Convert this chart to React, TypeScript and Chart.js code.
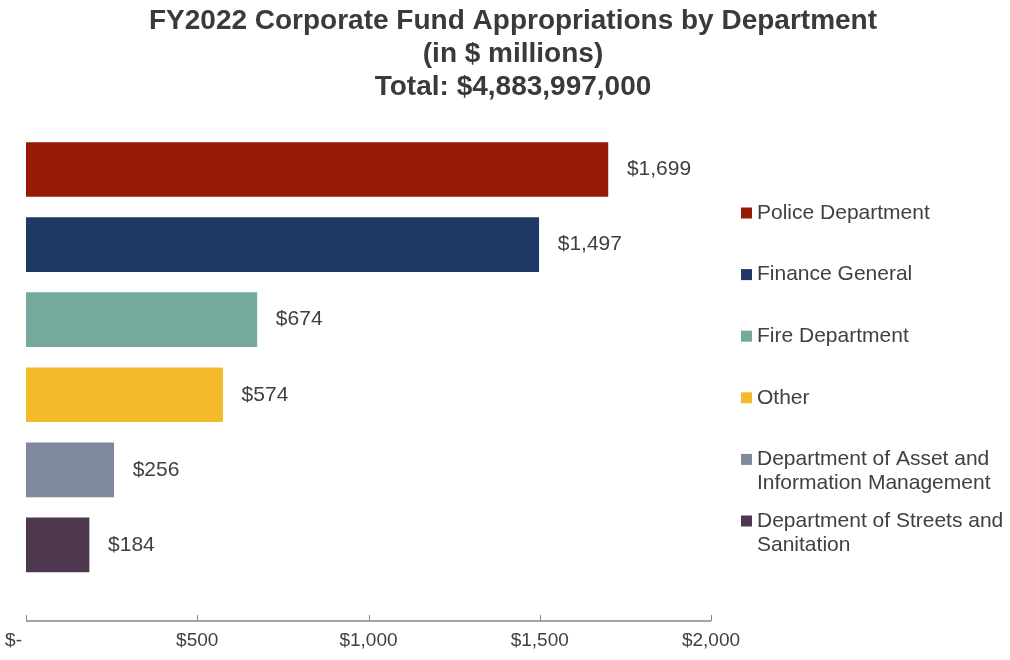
import React, { useEffect, useRef } from 'react';
import { Chart, registerables } from 'chart.js';

Chart.register(...registerables);

const TITLE_LINES = [
  'FY2022 Corporate Fund Appropriations by Department',
  '(in $ millions)',
  'Total: $4,883,997,000',
];
const DEPARTMENTS = [
  'Police Department',
  'Finance General',
  'Fire Department',
  'Other',
  'Department of Asset and Information Management',
  'Department of Streets and Sanitation',
];
const APPROPRIATIONS = [1699, 1497, 674, 574, 256, 184];
const BAR_COLORS = ['#961A06', '#203864', '#75A99D', '#F5BA2B', '#7F899B', '#4E384F'];
const X_MIN = 0;
const X_MAX = 2000;
const X_STEP = 500;

const FONT = "'Liberation Sans', Arial, sans-serif";
const TEXT = '#404040';

const fmtMoney = (v: number) => '$' + v.toLocaleString('en-US');
const fmtTick = (v: number) => (v === 0 ? '$-' : fmtMoney(v));

function wrapText(ctx: CanvasRenderingContext2D, text: string, maxW: number): string[] {
  const words = text.split(' ');
  const lines: string[] = [];
  let cur = '';
  for (const w of words) {
    const test = cur ? cur + ' ' + w : w;
    if (cur && ctx.measureText(test).width > maxW) {
      lines.push(cur);
      cur = w;
    } else cur = test;
  }
  if (cur) lines.push(cur);
  return lines;
}

const titlePlugin = {
  id: 'customTitle',
  afterDraw(chart: any) {
    const ctx = chart.ctx as CanvasRenderingContext2D;
    ctx.save();
    ctx.font = `bold 28px ${FONT}`;
    ctx.fillStyle = '#3a3a3a';
    ctx.textAlign = 'center';
    ctx.textBaseline = 'middle';
    TITLE_LINES.forEach((line, i) => ctx.fillText(line, 513, 21 + i * 33));
    ctx.restore();
  },
};

const valueLabelPlugin = {
  id: 'valueLabels',
  afterDatasetsDraw(chart: any) {
    const ctx = chart.ctx as CanvasRenderingContext2D;
    const meta = chart.getDatasetMeta(0);
    ctx.save();
    ctx.font = `21px ${FONT}`;
    ctx.fillStyle = TEXT;
    ctx.textAlign = 'left';
    ctx.textBaseline = 'middle';
    meta.data.forEach((bar: any, i: number) => {
      ctx.fillText(fmtMoney(APPROPRIATIONS[i]), bar.x + 19, bar.y);
    });
    ctx.restore();
  },
};

const sideLegendPlugin = {
  id: 'sideLegend',
  afterDraw(chart: any) {
    const ctx = chart.ctx as CanvasRenderingContext2D;
    ctx.save();
    ctx.font = `21px ${FONT}`;
    ctx.textAlign = 'left';
    ctx.textBaseline = 'middle';
    DEPARTMENTS.forEach((name, i) => {
      const y = 213 + i * 61.6;
      ctx.fillStyle = BAR_COLORS[i];
      ctx.fillRect(741, y - 5.5, 11, 11);
      ctx.fillStyle = TEXT;
      wrapText(ctx, name, 250).forEach((line, j) => ctx.fillText(line, 757, y + j * 24));
    });
    ctx.restore();
  },
};

const xAxisPlugin = {
  id: 'xAxisDecor',
  afterDraw(chart: any) {
    const ctx = chart.ctx as CanvasRenderingContext2D;
    const xs = chart.scales.x;
    const { left, right, bottom } = chart.chartArea;
    ctx.save();
    ctx.strokeStyle = '#868686';
    ctx.lineWidth = 1.5;
    ctx.beginPath();
    ctx.moveTo(left, bottom + 1);
    ctx.lineTo(right, bottom + 1);
    ctx.stroke();
    ctx.lineWidth = 1;
    ctx.font = `19px ${FONT}`;
    ctx.fillStyle = TEXT;
    ctx.textBaseline = 'middle';
    xs.ticks.forEach((t: any) => {
      const p = xs.getPixelForValue(t.value);
      const px = Math.round(p) + 0.5;
      ctx.beginPath();
      ctx.moveTo(px, bottom - 5);
      ctx.lineTo(px, bottom + 1);
      ctx.stroke();
      if (t.value === 0) {
        ctx.textAlign = 'right';
        ctx.fillText(fmtTick(t.value), p - 4, bottom + 21);
      } else {
        ctx.textAlign = 'center';
        ctx.fillText(fmtTick(t.value), p, bottom + 21);
      }
    });
    ctx.restore();
  },
};

export default function App() {
  const ref = useRef<HTMLCanvasElement | null>(null);

  useEffect(() => {
    if (!ref.current) return;
    const chart = new Chart(ref.current, {
      type: 'bar',
      data: {
        datasets: [
          {
            data: APPROPRIATIONS.map((v, i) => ({ x: v, y: i })),
            backgroundColor: BAR_COLORS,
            borderWidth: 0,
            barThickness: 54,
          },
        ],
      },
      options: {
        indexAxis: 'y',
        animation: false,
        responsive: false,
        maintainAspectRatio: false,
        layout: { padding: { top: 132, left: 26, right: 299, bottom: 40 } },
        plugins: {
          legend: { display: false },
          title: { display: false },
          tooltip: { enabled: false },
        },
        scales: {
          y: {
            type: 'linear',
            reverse: true,
            offset: false,
            min: -0.5,
            max: DEPARTMENTS.length,
            display: false,
            grid: { display: false, offset: false },
            ticks: { stepSize: 1 },
          },
          x: {
            type: 'linear',
            min: X_MIN,
            max: X_MAX,
            display: false,
            ticks: { stepSize: X_STEP },
          },
        },
      },
      plugins: [titlePlugin, valueLabelPlugin, sideLegendPlugin, xAxisPlugin],
    });
    return () => chart.destroy();
  }, []);

  return (
    <div style={{ position: 'absolute', left: 0, top: 0, width: 1010, height: 660, background: '#fff' }}>
      <canvas ref={ref} width={1010} height={660} style={{ display: 'block', width: 1010, height: 660 }} />
    </div>
  );
}
